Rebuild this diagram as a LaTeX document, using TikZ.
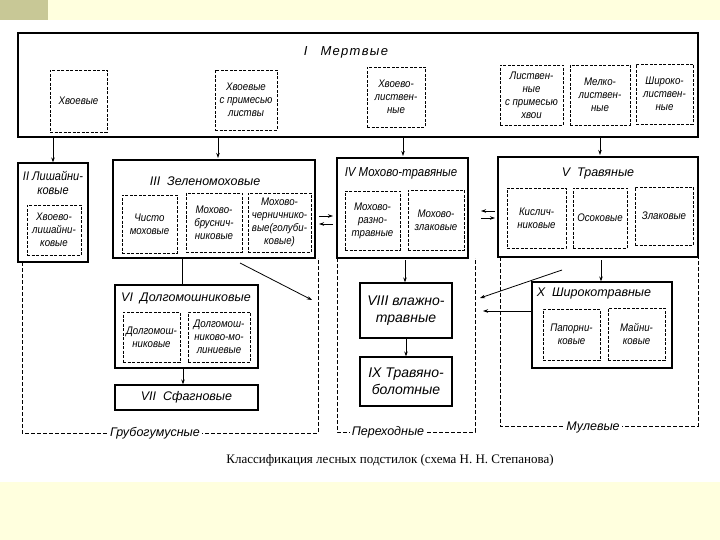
\documentclass[tikz,border=0pt]{standalone}
\usepackage{fontspec}
\setmainfont{Liberation Serif}
\newfontfamily\hand[FakeStretch=0.88]{Liberation Sans}
\newfontfamily\handw{Liberation Sans}
\newfontfamily\handsp[LetterSpace=10]{Liberation Sans}
\usetikzlibrary{arrows.meta}
\definecolor{bandyellow}{RGB}{255,255,222}
\definecolor{bandgreen}{RGB}{200,200,150}
\tikzset{
  solidbox/.style={draw, line width=1.2pt, inner sep=0pt},
  dbox/.style={draw, dashed, dash pattern=on 3pt off 1.5pt, line width=0.8pt, inner sep=0.5pt, align=center, font=\hand\itshape\fontsize{11}{13}\selectfont},
  ttl/.style={font=\handw\itshape\fontsize{12.5}{14}\selectfont, align=center, inner sep=1pt},
  bigt/.style={font=\handw\itshape\fontsize{14}{17}\selectfont, align=center},
  grp/.style={draw, dashed, dash pattern=on 4pt off 2pt, line width=0.8pt},
  glab/.style={fill=white, inner sep=2pt, font=\handw\itshape\fontsize{12.5}{14}\selectfont},
  arr/.style={-{Stealth[length=5pt,width=3.5pt]}, line width=0.8pt},
  ln/.style={line width=0.8pt}
}
\begin{document}
\begin{tikzpicture}[x=1pt,y=-1pt]
\useasboundingbox (0,0) rectangle (720,540);
% background bands
\fill[bandyellow] (0,0) rectangle (720,20);
\fill[bandgreen] (0,0) rectangle (48,20);
\fill[bandyellow] (0,482) rectangle (720,540);

% I
\node[solidbox, minimum width=680pt, minimum height=104pt] (I) at (358,85) {};
\node[font=\handsp\itshape\fontsize{13}{14}\selectfont] (It) at (346,52) {I\quad Мертвые};
\node[dbox, minimum width=57pt, minimum height=62pt] (i1) at (78.5,101) {Хвоевые};
\node[dbox, minimum width=62pt, minimum height=60pt] (i2) at (246,100) {Хвоевые\\с примесью\\листвы};
\node[dbox, minimum width=58pt, minimum height=60pt] (i3) at (396,97) {Хвоево-\\листвен-\\ные};
\node[dbox, minimum width=63pt, minimum height=60pt] (i4) at (531.5,95) {Листвен-\\ные\\с примесью\\хвои};
\node[dbox, minimum width=60pt, minimum height=60pt] (i5) at (600,95) {Мелко-\\листвен-\\ные};
\node[dbox, minimum width=57pt, minimum height=60pt] (i6) at (664.5,94) {Широко-\\листвен-\\ные};

% II
\node[solidbox, minimum width=70pt, minimum height=99pt] (II) at (53,212.5) {};
\node[ttl, font=\hand\itshape\fontsize{12.5}{14}\selectfont] (IIt) at (53,183) {II Лишайни-\\ковые};
\node[dbox, minimum width=54pt, minimum height=50pt] (ii1) at (54,230) {Хвоево-\\лишайни-\\ковые};

% III
\node[solidbox, minimum width=202pt, minimum height=98pt] (III) at (214,209) {};
\node[ttl] (IIIt) at (205,181) {III\ \ Зеленомоховые};
\node[dbox, minimum width=55pt, minimum height=58pt] (iii1) at (149.5,224) {Чисто\\моховые};
\node[dbox, minimum width=56pt, minimum height=59pt] (iii2) at (214,222.5) {Мохово-\\бруснич-\\никовые};
\node[dbox, minimum width=63pt, minimum height=59pt, inner sep=0pt] (iii3) at (279.5,222.5) {Мохово-\\черничнико-\\вые(голуби-\\ковые)};

% IV
\node[solidbox, minimum width=131pt, minimum height=100pt] (IV) at (402.5,208) {};
\node[ttl, font=\hand\itshape\fontsize{13}{14}\selectfont] (IVt) at (401,173) {IV Мохово-травяные};
\node[dbox, minimum width=55pt, minimum height=59pt] (iv1) at (372.5,220.5) {Мохово-\\разно-\\травные};
\node[dbox, minimum width=56pt, minimum height=60pt] (iv2) at (436,220) {Мохово-\\злаковые};

% V
\node[solidbox, minimum width=200pt, minimum height=100pt] (V) at (598,207) {};
\node[ttl] (Vt) at (598,173) {V\ \ Травяные};
\node[dbox, minimum width=59pt, minimum height=60pt] (v1) at (536.5,218) {Кислич-\\никовые};
\node[dbox, minimum width=54pt, minimum height=60pt] (v2) at (600,218) {Осоковые};
\node[dbox, minimum width=58pt, minimum height=58pt] (v3) at (664,216) {Злаковые};

% VI
\node[solidbox, minimum width=143pt, minimum height=83pt] (VI) at (186.5,326.5) {};
\node[ttl] (VIt) at (186,298) {VI\ \ Долгомошниковые};
\node[dbox, minimum width=57pt, minimum height=50pt] (vi1) at (151.5,337) {Долгомош-\\никовые};
\node[dbox, minimum width=62pt, minimum height=50pt] (vi2) at (219,337) {Долгомош-\\никово-мо-\\линиевые};

% VII
\node[solidbox, minimum width=143pt, minimum height=25pt, font=\handw\itshape\fontsize{12.5}{14}\selectfont] (VII) at (186.5,397.5) {VII\ \ Сфагновые\hspace{20pt}};

% VIII, IX
\node[solidbox, minimum width=92pt, minimum height=55pt, bigt] (VIII) at (406,310.5) {VIII влажно-\\травные};
\node[solidbox, minimum width=92pt, minimum height=49pt, bigt] (IX) at (406,381.5) {IX Травяно-\\болотные};

% X
\node[solidbox, minimum width=140pt, minimum height=86pt] (X) at (602,325) {};
\node[ttl] (Xt) at (594,293) {X\ \ Широкотравные};
\node[dbox, minimum width=57pt, minimum height=51pt] (x1) at (571.5,334.5) {Папорни-\\ковые};
\node[dbox, minimum width=57pt, minimum height=52pt] (x2) at (636.5,334) {Майни-\\ковые};

% arrows from I
\draw[arr] (I.south -| II) -- (II.north);
\draw[arr] (218,137) -- (218,158);
\draw[arr] (403,137) -- (403,156);
\draw[arr] (600,137) -- (600,155);

% groups
\coordinate (g1a) at (22,262);
\coordinate (g1b) at (22,433);
\coordinate (g1c) at (318,433);
\coordinate (g1d) at (318,258);
\draw[grp] (g1a) -- (g1b) -- (g1c) -- (g1d);
\node[glab] (g1l) at (155,433) {Грубогумусные};

\coordinate (g2a) at (337,258);
\coordinate (g2b) at (337,432);
\coordinate (g2c) at (475,432);
\coordinate (g2d) at (475,258);
\draw[grp] (g2a) -- (g2b) -- (g2c) -- (g2d);
\node[glab] (g2l) at (388,432) {Переходные};

\coordinate (g3a) at (500,257);
\coordinate (g3b) at (500,426);
\coordinate (g3c) at (698,426);
\coordinate (g3d) at (698,257);
\draw[grp] (g3a) -- (g3b) -- (g3c) -- (g3d);
\node[glab] (g3l) at (593,427) {Мулевые};

% III -> VI line, VI -> VII
\draw[ln] (182,258) -- (VI.north -| 182,0);
\draw[arr] (VI.south -| 183,0) -- (VII.north -| 183,0);
% III diagonal arrow
\coordinate (d1s) at (240,263);
\coordinate (d1e) at (312,300);
\draw[arr] (d1s) -- (d1e);

% III <-> IV
\draw[arr] (319,216) -- (333,216);
\draw[arr] (333,224) -- (319,224);
% IV <-> V
\draw[arr] (495,211) -- (481,211);
\draw[arr] (481,218) -- (495,218);

% IV -> VIII -> IX
\draw[arr] (405,260) -- (VIII.north -| 405,0);
\draw[arr] (VIII.south -| 406,0) -- (IX.north -| 406,0);

% V -> X
\draw[arr] (601,260) -- (X.north -| 601,0);
% V -> VIII diagonal, X -> VIII
\coordinate (d2s) at (562,270);
\coordinate (d2e) at (480,298);
\draw[arr] (d2s) -- (d2e);
\coordinate (d3e) at (483,311);
\draw[arr] (X.west |- 0,311) -- (d3e);

% caption
\node[font=\fontsize{13}{15}\selectfont] (cap) at (390,460) {Классификация лесных подстилок (схема Н. Н. Степанова)};
\end{tikzpicture}
\end{document}
